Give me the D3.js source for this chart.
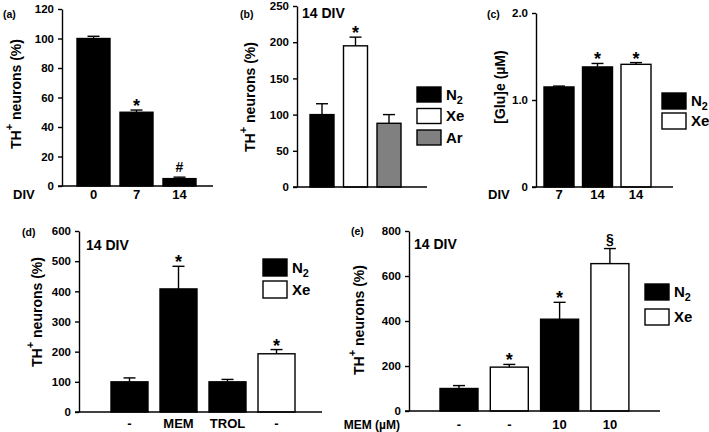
<!DOCTYPE html>
<html><head><meta charset="utf-8">
<script src="https://cdn.jsdelivr.net/npm/d3@7"></script>
<style>
body{margin:0;background:#fff}
svg text{font-family:"Liberation Sans",Arial,Helvetica,sans-serif;font-weight:bold;fill:#000}
</style>
</head><body><svg id="chart" width="709" height="432"></svg>
<script>
// ---------- DATA ----------
// Panel (a)
const aCategories = ["0", "7", "14"];
const aGas = ["N2", "N2", "N2"];
const aValues = [100, 50, 5];
const aErrors = [1.5, 1.5, 1];
const aMarks = ["", "*", "#"];
const aTicks = [0, 20, 40, 60, 80, 100, 120];
const aTickLabels = ["0", "20", "40", "60", "80", "100", "120"];

// Panel (b)
const bCategories = ["", "", ""];
const bGas = ["N2", "Xe", "Ar"];
const bValues = [100, 195, 88];
const bErrors = [15, 12, 12];
const bMarks = ["", "*", ""];
const bTicks = [0, 50, 100, 150, 200, 250];
const bTickLabels = ["0", "50", "100", "150", "200", "250"];
const bLegend = ["N2", "Xe", "Ar"];

// Panel (c)
const cCategories = ["7", "14", "14"];
const cGas = ["N2", "N2", "Xe"];
const cValues = [1.15, 1.38, 1.41];
const cErrors = [0.01, 0.04, 0.02];
const cMarks = ["", "*", "*"];
const cTicks = [0, 1, 2];
const cTickLabels = ["0", "1.0", "2.0"];
const cLegend = ["N2", "Xe"];

// Panel (d)
const dCategories = ["-", "MEM", "TROL", "-"];
const dGas = ["N2", "N2", "N2", "Xe"];
const dValues = [100, 408, 100, 193];
const dErrors = [13, 75, 8, 14];
const dMarks = ["", "*", "", "*"];
const dTicks = [0, 100, 200, 300, 400, 500, 600];
const dTickLabels = ["0", "100", "200", "300", "400", "500", "600"];
const dLegend = ["N2", "Xe"];

// Panel (e)
const eCategories = ["-", "-", "10", "10"];
const eGas = ["N2", "Xe", "N2", "Xe"];
const eValues = [100, 195, 408, 655];
const eErrors = [13, 12, 75, 67];
const eMarks = ["", "*", "*", "§"];
const eTicks = [0, 200, 400, 600, 800];
const eTickLabels = ["0", "200", "400", "600", "800"];
const eLegend = ["N2", "Xe"];

const gasFill = {N2: "#000000", Xe: "#ffffff", Ar: "#808080"};

// ---------- DRAWING ----------
const svg = d3.select("#chart");

function addSubText(sel, label, fs) {
  if (label === "N2") {
    sel.append("tspan").text("N");
    sel.append("tspan").attr("dy", 4).attr("font-size", fs * 0.72).text("2");
  } else {
    sel.text(label);
  }
}

function drawPanel(p) {
  const g = svg.append("g");
  const y = d3.scaleLinear().domain([0, p.max]).range([p.yBottom, p.yTop]);
  const n = p.values.length;
  const gap = p.step - p.bw;
  const x0 = p.barStart - gap / 2;
  const x = d3.scaleBand().domain(d3.range(n)).range([x0, x0 + n * p.step])
    .paddingInner(gap / p.step).paddingOuter(gap / p.step / 2);

  // y axis
  const ax = g.append("g").attr("transform", `translate(${p.axisX},0)`)
    .call(d3.axisLeft(y).tickValues(p.ticks).tickSize(4).tickSizeOuter(0).tickPadding(4)
      .tickFormat((d, i) => p.tickLabels[i]));
  ax.select(".domain").attr("stroke", "#000").attr("stroke-width", 1.4);
  ax.selectAll(".tick line").attr("stroke", "#000").attr("stroke-width", 1.4);
  ax.selectAll(".tick text").attr("font-size", 11.5).attr("font-family", null).attr("fill", "#000");

  // bars
  g.selectAll("rect.bar").data(p.values).enter().append("rect")
    .attr("x", (d, i) => x(i)).attr("width", x.bandwidth())
    .attr("y", d => y(d)).attr("height", d => y(0) - y(d))
    .attr("fill", (d, i) => gasFill[p.gas[i]])
    .attr("stroke", "#000").attr("stroke-width", 1.4);

  // error bars (upper only)
  const cap = 6;
  p.values.forEach((v, i) => {
    const cx = x(i) + x.bandwidth() / 2;
    const top = y(v + p.errors[i]);
    g.append("line").attr("x1", cx).attr("x2", cx).attr("y1", y(v)).attr("y2", top)
      .attr("stroke", "#000").attr("stroke-width", 1.4);
    g.append("line").attr("x1", cx - cap).attr("x2", cx + cap).attr("y1", top).attr("y2", top)
      .attr("stroke", "#000").attr("stroke-width", 1.4);
    const m = p.marks[i];
    if (m) {
      const isStar = m === "*";
      g.append("text").attr("x", cx).attr("y", isStar ? top + 2 : top - 5)
        .attr("text-anchor", "middle").attr("font-size", isStar ? 18 : 14).text(m);
    }
  });

  // x axis line
  g.append("line").attr("x1", p.axisX - 4).attr("x2", p.axisEnd)
    .attr("y1", y(0)).attr("y2", y(0)).attr("stroke", "#000").attr("stroke-width", 1.4);

  // category labels
  p.categories.forEach((c, i) => {
    if (!c) return;
    g.append("text").attr("x", x(i) + x.bandwidth() / 2).attr("y", p.catY)
      .attr("text-anchor", "middle").attr("font-size", 13).text(c);
  });
  if (p.catTitle) {
    g.append("text").attr("x", p.catTitle.x).attr("y", p.catY)
      .attr("text-anchor", p.catTitle.anchor || "start")
      .attr("font-size", p.catTitle.fs || 13).text(p.catTitle.text);
  }

  // panel label
  g.append("text").attr("x", p.label.x).attr("y", p.label.y).attr("font-size", 10.5).text(p.label.text);

  // 14 DIV note
  if (p.note) {
    g.append("text").attr("x", p.note.x).attr("y", p.note.y).attr("font-size", 14).text(p.note.text);
  }

  // y title
  const t = g.append("text")
    .attr("transform", `translate(${p.titleX},${p.titleY}) rotate(-90)`)
    .attr("text-anchor", "middle").attr("font-size", 14);
  if (p.titleTH) {
    t.append("tspan").text("TH");
    t.append("tspan").attr("dy", -8).attr("font-size", 11).text("+");
    t.append("tspan").attr("dy", 8).text(" neurons (%)");
  } else {
    t.text(p.titleText);
  }

  // legend
  if (p.legend) {
    p.legend.forEach((k, i) => {
      const ly = p.legendPos.y + i * p.legendPos.step;
      g.append("rect").attr("x", p.legendPos.x).attr("y", ly)
        .attr("width", p.legendPos.w).attr("height", p.legendPos.h)
        .attr("fill", gasFill[k]).attr("stroke", "#000").attr("stroke-width", 1.4);
      const tx = g.append("text").attr("x", p.legendPos.x + p.legendPos.w + 5)
        .attr("y", ly + p.legendPos.h / 2 + 5).attr("font-size", 15);
      addSubText(tx, k, 15);
    });
  }
}

drawPanel({
  values: aValues, errors: aErrors, gas: aGas, marks: aMarks, categories: aCategories,
  ticks: aTicks, tickLabels: aTickLabels, max: 120, yBottom: 186, yTop: 9,
  axisX: 62, axisEnd: 213, barStart: 77, step: 43, bw: 33, catY: 199,
  catTitle: {x: 13, text: "DIV"}, label: {x: 3, y: 18, text: "(a)"},
  titleTH: true, titleX: 21, titleY: 94
});

drawPanel({
  values: bValues, errors: bErrors, gas: bGas, marks: bMarks, categories: bCategories,
  ticks: bTicks, tickLabels: bTickLabels, max: 250, yBottom: 187, yTop: 6,
  axisX: 297, axisEnd: 427, barStart: 310, step: 33.5, bw: 24, catY: 199,
  label: {x: 240, y: 18, text: "(b)"}, note: {x: 302, y: 18, text: "14 DIV"},
  titleTH: true, titleX: 255, titleY: 97,
  legend: bLegend, legendPos: {x: 417, y: 87, step: 21.5, w: 24, h: 15}
});

drawPanel({
  values: cValues, errors: cErrors, gas: cGas, marks: cMarks, categories: cCategories,
  ticks: cTicks, tickLabels: cTickLabels, max: 2, yBottom: 187, yTop: 13,
  axisX: 536, axisEnd: 673, barStart: 544, step: 38.5, bw: 30, catY: 199,
  catTitle: {x: 488, text: "DIV"}, label: {x: 487, y: 18, text: "(c)"},
  titleTH: false, titleText: "[Glu]e (µM)", titleX: 505, titleY: 87,
  legend: cLegend, legendPos: {x: 662, y: 93, step: 20, w: 24, h: 16}
});

drawPanel({
  values: dValues, errors: dErrors, gas: dGas, marks: dMarks, categories: dCategories,
  ticks: dTicks, tickLabels: dTickLabels, max: 600, yBottom: 412, yTop: 231,
  axisX: 79, axisEnd: 322, barStart: 111, step: 49, bw: 37, catY: 428,
  label: {x: 22, y: 236, text: "(d)"}, note: {x: 86, y: 250, text: "14 DIV"},
  titleTH: true, titleX: 42, titleY: 312,
  legend: dLegend, legendPos: {x: 263, y: 259, step: 22, w: 24, h: 17}
});

drawPanel({
  values: eValues, errors: eErrors, gas: eGas, marks: eMarks, categories: eCategories,
  ticks: eTicks, tickLabels: eTickLabels, max: 800, yBottom: 411, yTop: 231,
  axisX: 409, axisEnd: 660, barStart: 440, step: 50.3, bw: 38, catY: 428.5,
  catTitle: {x: 400, anchor: "end", text: "MEM (µM)", fs: 12},
  label: {x: 351, y: 235, text: "(e)"}, note: {x: 414, y: 249, text: "14 DIV"},
  titleTH: true, titleX: 364, titleY: 320,
  legend: eLegend, legendPos: {x: 645, y: 284, step: 25, w: 24, h: 16}
});
</script>
</body></html>
